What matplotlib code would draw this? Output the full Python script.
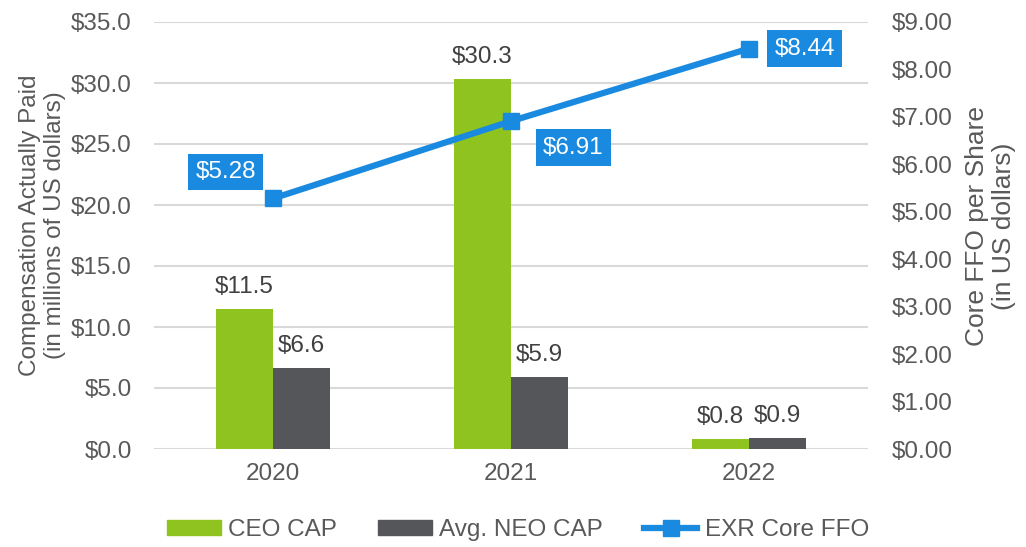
import matplotlib
matplotlib.use("Agg")
import matplotlib.pyplot as plt
import numpy as np
from matplotlib.lines import Line2D
from matplotlib.patches import Patch

years = ["2020", "2021", "2022"]
ceo_cap = [11.5, 30.3, 0.8]
neo_cap = [6.6, 5.9, 0.9]
core_ffo = [5.28, 6.91, 8.44]
left_ticks = [0, 5, 10, 15, 20, 25, 30, 35]
right_ticks = [0, 1, 2, 3, 4, 5, 6, 7, 8, 9]

GREEN = "#8fc31f"
GRAY = "#55565a"
BLUE = "#1a8ae0"
TXT = "#595959"
FS = 17.5

plt.rcParams["font.family"] = ["Liberation Sans", "DejaVu Sans"]

fig = plt.figure(figsize=(10.26, 5.47), dpi=100)
L, R, T, B = 154, 868, 22, 449
ax = fig.add_axes([L/1026, 1-B/547, (R-L)/1026, (B-T)/547])
ax2 = ax.twinx()

x = np.arange(len(years))
w = 0.24
ax.bar(x - w/2, ceo_cap, w, color=GREEN, zorder=2)
ax.bar(x + w/2, neo_cap, w, color=GRAY, zorder=2)
for xi, v in zip(x, ceo_cap):
    ax.text(xi - w/2, v + 0.9, f"${v:.1f}", ha="center", va="bottom", fontsize=FS, color="#404040")
for xi, v in zip(x, neo_cap):
    ax.text(xi + w/2, v + 0.9, f"${v:.1f}", ha="center", va="bottom", fontsize=FS, color="#404040")

ax.set_ylim(0, 35)
ax.set_xlim(-0.5, 2.5)
ax.set_yticks(left_ticks)
ax.set_yticklabels([f"${t:.1f}" for t in left_ticks])
ax.set_xticks(x)
ax.set_xticklabels(years)
ax.grid(axis="y", color="#d9d9d9", linewidth=1.5, zorder=0)
ax.set_axisbelow(True)
for s in ax.spines.values():
    s.set_visible(False)
ax.tick_params(axis="x", length=0, labelsize=FS, labelcolor=TXT, pad=10)
ax.tick_params(axis="y", length=0, labelsize=FS, labelcolor=TXT, pad=16)
ax.set_ylabel("Compensation Actually Paid\n(in millions of US dollars)", fontsize=FS, color=TXT, linespacing=1.2)
ax.yaxis.set_label_coords((66 - L)/(R - L), (B - 225)/(B - T))

ax2.plot(x, core_ffo, color=BLUE, linewidth=4.5, marker="s", markersize=11, zorder=3)
ax2.set_ylim(0, 9)
ax2.set_yticks(right_ticks)
ax2.set_yticklabels([f"${t:.2f}" for t in right_ticks])
for s in ax2.spines.values():
    s.set_visible(False)
ax2.tick_params(axis="y", length=0, labelsize=FS, labelcolor=TXT, pad=17)
ax2.set_ylabel("Core FFO per Share\n(in US dollars)", fontsize=19, color=TXT, rotation=90, linespacing=1.15)
ax2.yaxis.set_label_coords((965 - L)/(R - L), (B - 226)/(B - T))

offsets = [(-34, 19), (45, -19), (40, 0)]
for xi, v, (dx, dy) in zip(x, core_ffo, offsets):
    ax2.annotate(f"${v:.2f}", (xi, v), xytext=(dx, dy), textcoords="offset points",
                 ha="center", va="center", fontsize=FS, color="white",
                 bbox=dict(boxstyle="square,pad=0.3", fc=BLUE, ec="none"), zorder=5)

handles = [Patch(color=GREEN, label="CEO CAP"), Patch(color=GRAY, label="Avg. NEO CAP"),
           Line2D([0], [0], color=BLUE, linewidth=4.5, marker="s", markersize=11, label="EXR Core FFO")]
fig.legend(handles=handles, loc="center", bbox_to_anchor=(518/1026, 1-530/547), ncol=3, frameon=False,
           fontsize=FS, labelcolor=TXT, handlelength=2.2, handleheight=0.55, columnspacing=1.7,
           handletextpad=0.3)

fig.savefig("out.png", dpi=100, facecolor="white")
